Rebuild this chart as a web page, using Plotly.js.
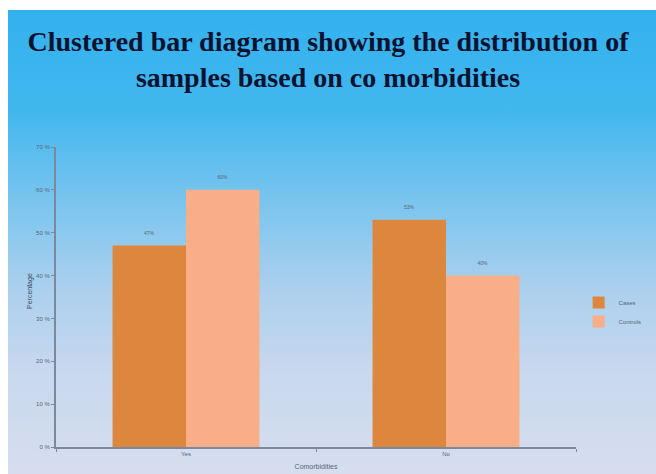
<!DOCTYPE html>
<html>
<head>
<meta charset="utf-8">
<script src="https://cdn.plot.ly/plotly-3.0.1.min.js"></script>
<style>
  html, body { margin: 0; padding: 0; background: #ffffff; }
  #wrap { position: relative; width: 656px; height: 474px; overflow: hidden; background: #ffffff; }
  #bg { position: absolute; left: 8px; top: 10px; width: 648px; height: 464px;
        background: linear-gradient(to bottom, #33B1EE 0%, #42B7EE 22%, #7CC5EE 42%, #ABD0EE 60%, #C8D8EE 78%, #D6DEEE 100%); }
  #chart { position: absolute; left: 0; top: 0; width: 656px; height: 474px; }
</style>
</head>
<body>
<div id="wrap">
  <div id="bg"></div>
  <div id="chart"></div>
</div>
<script>
const categories = ["Yes", "No"];
const seriesNames = ["Cases", "Controls"];
const casesValues = [47, 53];
const controlsValues = [60, 40];
const yTickValues = [0, 10, 20, 30, 40, 50, 60, 70];
const yTickLabels = ["0 %", "10 %", "20 %", "30 %", "40 %", "50 %", "60 %", "70 %"];

const smallFont = {family: "Liberation Sans, Arial, sans-serif", size: 6, color: "#56657a"};

const traces = [
  {
    type: "bar", name: seriesNames[0], x: categories, y: casesValues,
    marker: {color: "#DD873E"},
    text: casesValues.map(v => v + "%<br> "), textposition: "outside",
    textfont: {family: smallFont.family, size: 5, color: smallFont.color}, cliponaxis: false
  },
  {
    type: "bar", name: seriesNames[1], x: categories, y: controlsValues,
    marker: {color: "#F8AE87"},
    text: controlsValues.map(v => v + "%<br> "), textposition: "outside",
    textfont: {family: smallFont.family, size: 5, color: smallFont.color}, cliponaxis: false
  }
];

const layout = {
  width: 656, height: 474,
  paper_bgcolor: "rgba(0,0,0,0)",
  plot_bgcolor: "rgba(0,0,0,0)",
  margin: {l: 56, r: 80, t: 147, b: 27, autoexpand: false},
  barmode: "group", bargap: 0.435, bargroupgap: 0,
  title: {
    text: "<b>Clustered bar diagram showing the distribution of<br>samples based on co morbidities</b>",
    font: {family: "Liberation Serif, Times New Roman, serif", size: 28, color: "#0A1230"},
    x: 0.5, xanchor: "center", xref: "container",
    y: 0.893, yanchor: "middle", yref: "container"
  },
  xaxis: {
    type: "category", range: [-0.5, 1.5],
    showline: true, linecolor: "#7C889C", linewidth: 2,
    ticks: "outside", tickson: "boundaries", ticklen: 3, tickcolor: "#7C889C",
    tickfont: smallFont, showgrid: false, zeroline: false,
    title: {text: "Comorbidities", font: {family: "Liberation Sans, Arial, sans-serif", size: 7, color: "#56657a"}, standoff: 8}
  },
  yaxis: {
    range: [0, 70], tickvals: yTickValues, ticktext: yTickLabels,
    showline: true, linecolor: "#7C889C", linewidth: 2,
    ticks: "outside", ticklen: 3, tickcolor: "#7C889C",
    tickfont: smallFont, showgrid: false, zeroline: false
  },
  annotations: [{
    text: "Percentage", textangle: -90, showarrow: false,
    xref: "paper", yref: "paper", x: -0.05, y: 0.52,
    xanchor: "center", yanchor: "middle",
    font: {family: "Liberation Sans, Arial, sans-serif", size: 7, color: "#3c4a5e"}
  }],
  legend: {
    x: 1.005, xanchor: "left", y: 0.45, yanchor: "middle",
    font: smallFont, bgcolor: "rgba(0,0,0,0)", itemwidth: 30, tracegroupgap: 2
  },
  showlegend: true
};

Plotly.newPlot("chart", traces, layout, {displayModeBar: false, staticPlot: true});
</script>
</body>
</html>
